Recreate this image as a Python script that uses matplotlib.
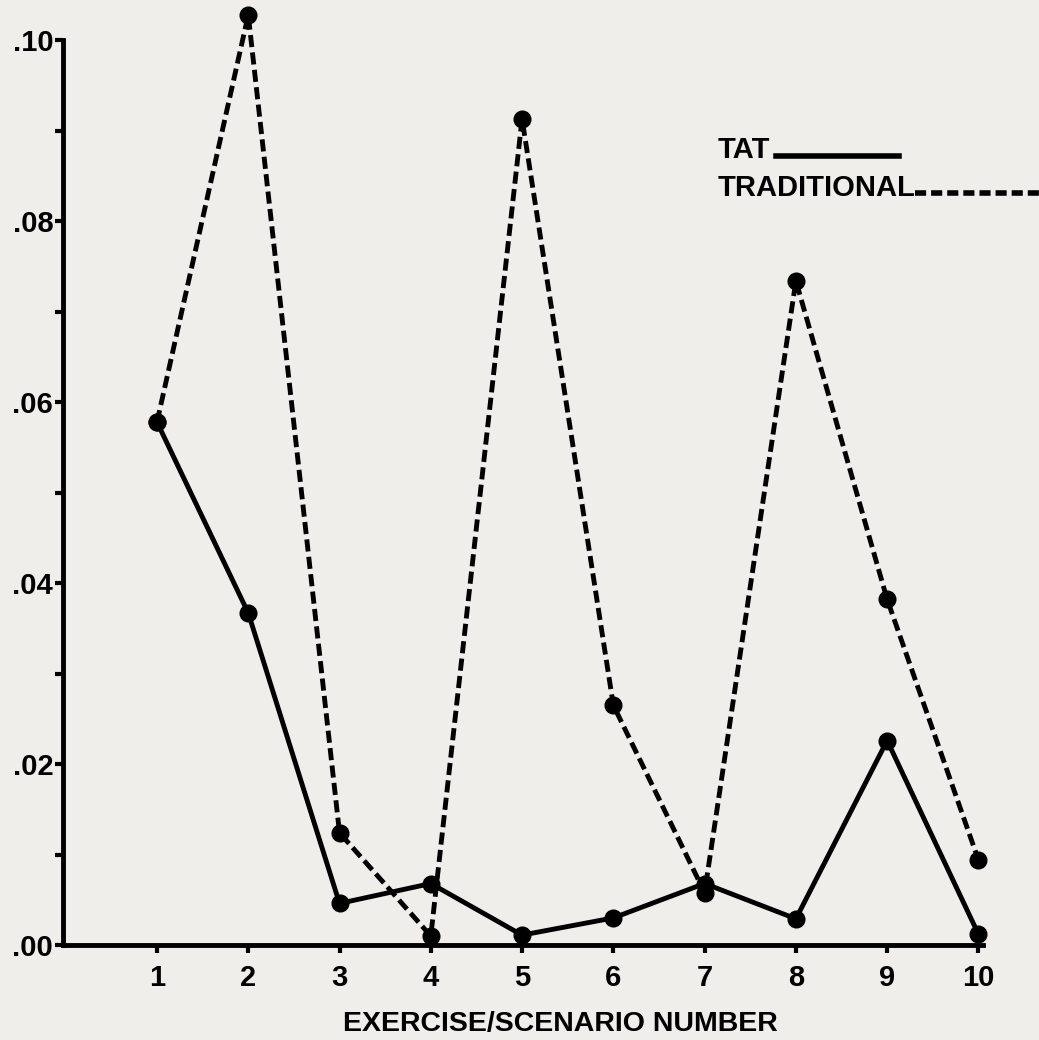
import matplotlib.pyplot as plt
from matplotlib.lines import Line2D
from matplotlib.ticker import MultipleLocator

# data
exercise = [1, 2, 3, 4, 5, 6, 7, 8, 9, 10]
tat = [0.0578, 0.0367, 0.0046, 0.0068, 0.0011, 0.0030, 0.0068, 0.0029, 0.0226, 0.0012]
traditional = [0.0578, 0.1028, 0.0124, 0.0010, 0.0913, 0.0265, 0.0058, 0.0734, 0.0382, 0.0094]
y_ticks = [0.00, 0.02, 0.04, 0.06, 0.08, 0.10]
y_labels = ['.00', '.02', '.04', '.06', '.08', '.10']

plt.rcParams['font.family'] = ['Liberation Sans', 'DejaVu Sans']
plt.rcParams['font.weight'] = 'bold'

paper = '#efeeea'
fig = plt.figure(figsize=(10.39, 10.40), dpi=100)
fig.patch.set_facecolor(paper)
ax = fig.add_axes([0.0606, 0.0913, 0.8855, 0.870])
ax.set_facecolor(paper)

ax.plot(exercise, tat, color='black', linewidth=3.5, marker='o', markersize=12,
        clip_on=False, zorder=3)
ax.plot(exercise, traditional, color='black', linewidth=3.5, marker='o', markersize=12,
        dashes=(2.5, 1.1), clip_on=False, zorder=3)

ax.set_xlim(-0.03, 10.05)
ax.set_ylim(0, 0.10)

ax.set_xticks(exercise)
ax.set_xticklabels([str(e) for e in exercise], fontsize=21, fontweight='bold')
ax.set_yticks(y_ticks)
ax.set_yticklabels(y_labels, fontsize=21, fontweight='bold')
ax.yaxis.set_minor_locator(MultipleLocator(0.01))

ax.tick_params(axis='both', which='both', length=6, width=3, direction='out', color='black')
ax.tick_params(axis='x', pad=8)
ax.tick_params(axis='y', pad=1)

for side in ['top', 'right']:
    ax.spines[side].set_visible(False)
for side in ['left', 'bottom']:
    ax.spines[side].set_linewidth(3.5)

ax.set_xlabel('EXERCISE/SCENARIO NUMBER', fontsize=20.5, fontweight='bold')
ax.xaxis.set_label_coords(0.541, -0.073)

# hand-drawn style legend
fig.text(0.691, 0.848, 'TAT', fontsize=21, fontweight='bold', va='baseline')
fig.text(0.691, 0.812, 'TRADITIONAL', fontsize=21, fontweight='bold', va='baseline')
fig.add_artist(Line2D([0.747, 0.865], [0.850, 0.850], color='black', linewidth=4,
                      transform=fig.transFigure))
fig.add_artist(Line2D([0.881, 1.0], [0.814, 0.814], color='black', linewidth=4,
                      dashes=(2.0, 0.9), transform=fig.transFigure))

fig.savefig('out.png', dpi=100, facecolor=paper)
